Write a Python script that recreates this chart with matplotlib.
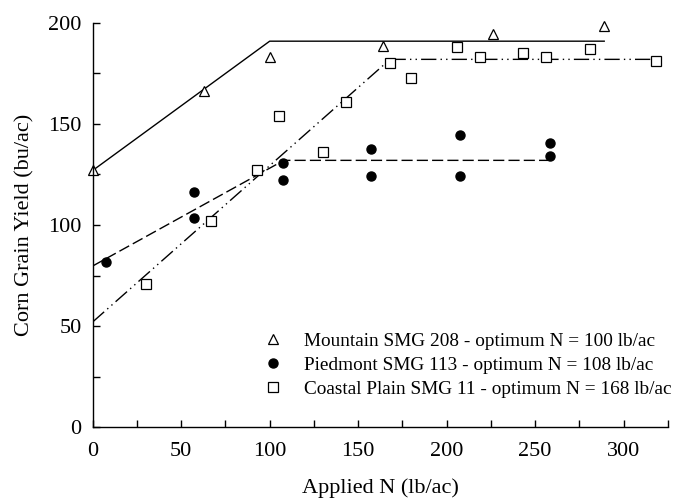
import numpy as np
import matplotlib
matplotlib.use("Agg")
import matplotlib.pyplot as plt
from matplotlib.ticker import MultipleLocator

plt.rcParams['font.family'] = ['Liberation Serif', 'DejaVu Serif']

# Mountain SMG 208
mtn_n = [0, 63, 100, 164, 226, 289]
mtn_y = [127, 166.5, 183, 188.5, 194.5, 198.5]
mtn_fit_n = [0, 100, 289]
mtn_fit_y = [127, 191, 191]

# Piedmont SMG 113
pied_n = [7.5, 57.5, 57.5, 107.5, 107.5, 157.5, 157.5, 207.5, 207.5, 258.5, 258.5]
pied_y = [81.5, 116.3, 103.5, 130.5, 122.3, 137.5, 124.4, 144.4, 124.4, 140.4, 134.3]
pied_fit_n = [0, 108, 258.5]
pied_fit_y = [79.7, 132, 132]

# Coastal Plain SMG 11
cst_n = [30, 67, 93, 105, 130, 143, 168, 180, 206, 219, 243, 256, 281, 318]
cst_y = [71, 102, 127, 154, 136, 161, 180, 173, 188, 183, 185, 183, 187, 181]
cst_fit_n = [0, 168, 318]
cst_fit_y = [52, 182, 182]

labels = ["Mountain SMG 208 - optimum N = 100 lb/ac",
          "Piedmont SMG 113 - optimum N = 108 lb/ac",
          "Coastal Plain SMG 11 - optimum N = 168 lb/ac"]

fig = plt.figure(figsize=(6.74, 5.0), dpi=100)
ax = fig.add_axes([0.1375, 0.146, 0.8535, 0.808])

lw = 1.0
ax.plot(mtn_fit_n, mtn_fit_y, color='black', lw=lw, ls='-')
ax.plot(pied_fit_n, pied_fit_y, color='black', lw=lw, ls=(0, (8, 3)))
ax.plot(cst_fit_n, cst_fit_y, color='black', lw=lw, ls=(0, (11, 3, 1, 3, 1, 3)))

ax.plot(mtn_n, mtn_y, ls='none', marker='^', ms=7.5, mfc='white', mec='black', mew=0.9,
        label=labels[0], clip_on=False)
ax.plot(pied_n, pied_y, ls='none', marker='o', ms=6.5, mfc='black', mec='black',
        label=labels[1], clip_on=False)
ax.plot(cst_n, cst_y, ls='none', marker='s', ms=6.5, mfc='white', mec='black', mew=0.9,
        label=labels[2], clip_on=False)

ax.set_xlim(0, 325)
ax.set_ylim(0, 200)
ax.xaxis.set_major_locator(MultipleLocator(50))
ax.xaxis.set_minor_locator(MultipleLocator(25))
ax.yaxis.set_major_locator(MultipleLocator(50))
ax.yaxis.set_minor_locator(MultipleLocator(25))
ax.tick_params(which='both', direction='in', length=5, width=1, labelsize=16)
ax.tick_params(axis='x', pad=11)
ax.tick_params(axis='y', pad=8)
ax.spines['top'].set_visible(False)
ax.spines['right'].set_visible(False)
for s in ['left', 'bottom']:
    ax.spines[s].set_linewidth(1)

ax.set_xlabel('Applied N (lb/ac)', fontsize=16, labelpad=12)
ax.set_ylabel('Corn Grain Yield (bu/ac)', fontsize=16, labelpad=10)

ax.legend(loc='upper left', bbox_to_anchor=(0.283, 0.253), frameon=False, fontsize=13.85,
          numpoints=1, handlelength=1.0, handletextpad=1.1, labelspacing=0.33,
          borderaxespad=0)

fig.savefig('out.png', dpi=100)
